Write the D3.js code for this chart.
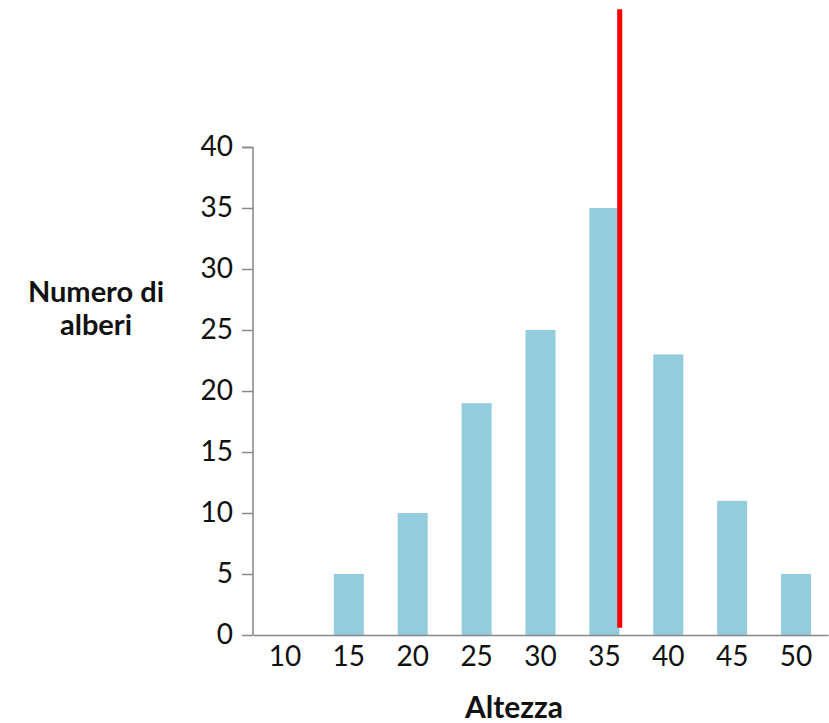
<!DOCTYPE html>
<html><head><meta charset="utf-8">
<script src="https://cdn.jsdelivr.net/npm/d3@7"></script>
<style>body{margin:0;background:#fff;} text{font-family:Lato,"Open Sans",sans-serif;}</style>
</head><body>
<svg id="c" width="829" height="723"></svg>
<script>
const categories = ["10","15","20","25","30","35","40","45","50"];
const counts = [0,5,10,19,25,35,23,11,5];
const yTicks = [0,5,10,15,20,25,30,35,40];
const markerValue = 36.2;
const markerRange = [0.6, 51.3];

const svg = d3.select("#c");
const x = d3.scaleBand().domain(categories).range([253, 828]).paddingInner(0.53).paddingOuter(0.265);
const y = d3.scaleLinear().domain([0, 40]).range([635, 147]);
const xv = d3.scaleLinear().domain([10, 50]).range([x("10") + x.bandwidth()/2, x("50") + x.bandwidth()/2]);

svg.selectAll("rect.bar").data(counts).join("rect").attr("class","bar")
  .attr("x", (d,i) => x(categories[i])).attr("width", x.bandwidth())
  .attr("y", d => y(d)).attr("height", d => y(0) - y(d))
  .attr("fill", "#93cddd");

const yAxis = svg.append("g").attr("transform","translate(253,0)")
  .call(d3.axisLeft(y).tickValues(yTicks).tickSize(11).tickPadding(9));
yAxis.select(".domain").attr("stroke","#888").attr("stroke-width",1.5).attr("d","M-11,147.5H0V635");
yAxis.selectAll(".tick line").attr("stroke","#888").attr("stroke-width",1.5);
yAxis.selectAll(".tick text").attr("font-size",28).attr("fill","#111").attr("font-family","Lato");

const xAxis = svg.append("g").attr("transform","translate(0,635)")
  .call(d3.axisBottom(x).tickSize(0).tickPadding(11));
xAxis.select(".domain").attr("stroke","#888").attr("stroke-width",1.5);
xAxis.selectAll(".tick text").attr("font-size",28).attr("fill","#111").attr("font-family","Lato");

svg.append("line")
  .attr("x1", xv(markerValue)).attr("x2", xv(markerValue))
  .attr("y1", y(markerRange[1])).attr("y2", y(markerRange[0]))
  .attr("stroke","#ff0000").attr("stroke-width",5);

svg.append("text").attr("x",96).attr("y",302).attr("text-anchor","middle").attr("font-size",29)
  .attr("font-weight","bold").attr("fill","#111").text("Numero di");
svg.append("text").attr("x",96).attr("y",335).attr("text-anchor","middle").attr("font-size",29)
  .attr("font-weight","bold").attr("fill","#111").text("alberi");

svg.append("text").attr("x",514).attr("y",718).attr("text-anchor","middle")
  .attr("font-size",30).attr("font-weight","bold").attr("fill","#111").text("Altezza");
</script>
</body></html>
